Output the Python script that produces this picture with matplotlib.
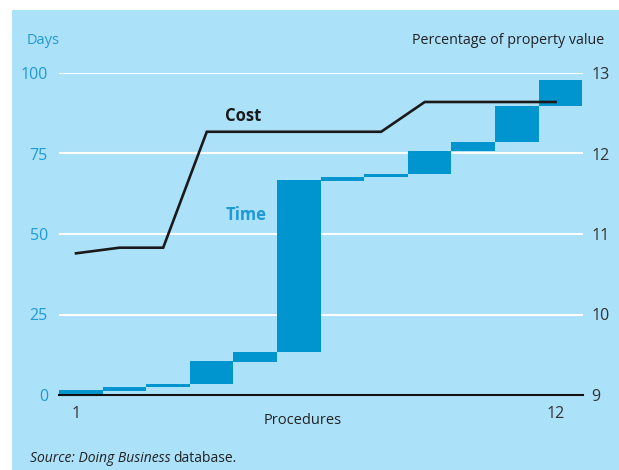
import matplotlib
matplotlib.use("Agg")
import matplotlib.pyplot as plt
from matplotlib.patches import Rectangle
import numpy as np

plt.rcParams['font.family'] = ['Open Sans', 'DejaVu Sans']

# Data
procedures = np.arange(1, 13)
time_start = [0.3, 1.3, 2.4, 3.4, 10.4, 13.4, 66.6, 67.6, 68.7, 75.7, 78.7, 89.9]
time_end = [1.5, 2.5, 3.5, 10.6, 13.4, 66.8, 67.7, 68.7, 75.9, 78.7, 89.9, 97.8]
cost = [10.76, 10.83, 10.83, 12.27, 12.27, 12.27, 12.27, 12.27, 12.64, 12.64, 12.64, 12.64]
left_ticks = [0, 25, 50, 75, 100]
right_ticks = [9, 10, 11, 12, 13]

BG = '#ACE1FA'
BAR = '#0095CF'
TBLUE = '#1F9AD6'

W, H = 619, 470
fig = plt.figure(figsize=(W / 100, H / 100), dpi=100)
fig.patch.set_facecolor('white')
fig.add_artist(Rectangle((12 / W, 0), 1 - 12 / W, 460 / H, transform=fig.transFigure,
                         facecolor=BG, edgecolor='none', zorder=0))

ax = fig.add_axes([59 / W, 75 / H, (583 - 59) / W, (395 - 73) / H])
ax.set_facecolor('none')
ax.set_xlim(0.61, 12.63)
ax.set_ylim(0, 100)

heights = np.array(time_end) - np.array(time_start)
ax.bar(procedures + 0.11, heights, bottom=time_start, width=1.0, color=BAR,
       edgecolor='none', zorder=3)

for t in left_ticks[1:]:
    ax.axhline(t, color='white', lw=1.5, zorder=1)

for s in ['top', 'right', 'left']:
    ax.spines[s].set_visible(False)
ax.spines['bottom'].set_color('#111111')
ax.spines['bottom'].set_linewidth(1.5)
ax.spines['bottom'].set_zorder(5)

ax.set_yticks(left_ticks)
ax.set_yticklabels([str(t) for t in left_ticks])
ax.tick_params(axis='y', length=0, pad=8, labelsize=11.5, labelcolor=TBLUE)
ax.set_xticks([1, 12])
ax.set_xticklabels(['1', '12'])
ax.tick_params(axis='x', length=0, pad=8, labelsize=11.5, labelcolor='#333333')

ax2 = ax.twinx()
ax2.set_ylim(9, 13)
ax2.set_yticks(right_ticks)
ax2.set_yticklabels([str(t) for t in right_ticks])
ax2.tick_params(axis='y', length=0, pad=6, labelsize=11.5, labelcolor='#333333')
for s in ax2.spines.values():
    s.set_visible(False)
ax2.plot(procedures, cost, color='#1a1a1a', lw=1.9, solid_joinstyle='miter', zorder=6)

fig.text(27 / W, 1 - 40 / H, 'Days', color=TBLUE, fontsize=10.5, va='center', ha='left')
fig.text(604 / W, 1 - 40 / H, 'Percentage of property value', color='#222222',
         fontsize=10.3, va='center', ha='right')
fig.text(303 / W, 1 - 421 / H, 'Procedures', color='#222222', fontsize=10.5,
         va='center', ha='center')
fig.text(243 / W, 1 - 116 / H, 'Cost', color='#1a1a1a', fontsize=12, fontweight='bold',
         va='center', ha='center')
fig.text(246 / W, 1 - 215 / H, 'Time', color=TBLUE, fontsize=12, fontweight='bold',
         va='center', ha='center')
t1 = fig.text(30 / W, 1 - 459 / H, 'Source: Doing Business', color='#222222', fontsize=10,
              style='italic', va='center', ha='left')
fig.canvas.draw()
bb = t1.get_window_extent()
fig.text((bb.x1 + 3) / W, 1 - 459 / H, 'database.', color='#222222', fontsize=10,
         va='center', ha='left')

fig.savefig('out.png', dpi=100, facecolor=fig.get_facecolor())
